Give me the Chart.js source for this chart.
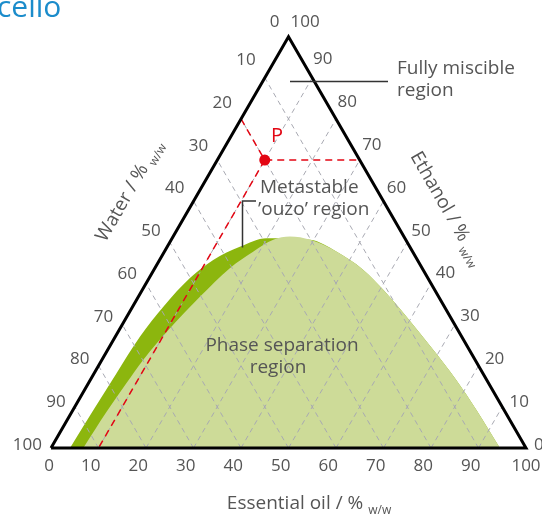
<!DOCTYPE html>
<html>
<head>
<meta charset="utf-8">
<script src="https://cdn.jsdelivr.net/npm/chart.js@4.4.1/dist/chart.umd.min.js"></script>
<style>
  html, body { margin: 0; padding: 0; background: #fff; }
  #wrap { position: relative; width: 542px; height: 516px; }
</style>
</head>
<body>
<div id="wrap"><canvas id="grafico"></canvas></div>
<script>
const ticks = [0, 10, 20, 30, 40, 50, 60, 70, 80, 90, 100];
const gridTicks = [10, 20, 30, 40, 50, 60, 70, 80, 90];

// limite da região de separação de fases (óleo essencial %, etanol %)
const faseOil = [6.8, 7.3, 8.0, 8.7, 10.5, 13.0, 15.8, 18.7, 21.5, 24.6, 29.3, 36.3, 44.1, 50.8, 58.9, 68.6, 77.1, 85.0, 94.5];
const faseEthanol = [0, 8.8, 15.8, 21.4, 29.1, 36.8, 43.7, 47.7, 50.6, 51.4, 50.6, 47.7, 43.3, 38.4, 31.9, 23.8, 16.5, 9.2, 0];

// borda externa da faixa metaestável 'ouzo'
const ouzoOil = [4.0, 4.3, 4.7, 5.2, 6.5, 8.6, 11.3, 15.3, 19.9];
const ouzoEthanol = [0, 9.2, 18.2, 27.1, 34.4, 41.3, 45.7, 48.9, 51.0];

// ponto P
const pOil = 10, pWater = 20, pEthanol = 70;

const SQ = Math.sqrt(3) / 2;
function toXY(oil, eth) {
  return { x: oil + eth / 2, y: eth * SQ };
}

const fasePts = faseOil.map((o, i) => toXY(o, faseEthanol[i]));
const ouzoPts = ouzoOil.map((o, i) => toXY(o, ouzoEthanol[i])).concat(fasePts.slice(10));

const gray = '#a8a9b2';
const red = '#e30613';
const txt = '#555';

const datasets = [];

datasets.push({
  data: fasePts, showLine: true, fill: 'origin', backgroundColor: '#cddb98',
  borderWidth: 0, pointRadius: 0, cubicInterpolationMode: 'monotone', order: 8
});
datasets.push({
  data: ouzoPts, showLine: true, fill: 'origin', backgroundColor: '#8cb60e',
  borderWidth: 0, pointRadius: 0, cubicInterpolationMode: 'monotone', order: 9
});

gridTicks.forEach(v => {
  // óleo constante (paralela ao lado esquerdo)
  datasets.push({
    data: [toXY(v, 0), toXY(v, 100 - v)], showLine: true, borderColor: gray,
    borderWidth: 1, borderDash: [5, 4], pointRadius: 0, order: 5
  });
  // água constante (paralela ao lado direito)
  datasets.push({
    data: [toXY(100 - v, 0), toXY(0, 100 - v)], showLine: true, borderColor: gray,
    borderWidth: 1, borderDash: [5, 4], pointRadius: 0, order: 5
  });
});

const pPt = toXY(pOil, pEthanol);
datasets.push({
  data: [toXY(0, 100 - pWater), pPt, toXY(100 - pEthanol, pEthanol)], showLine: true,
  borderColor: red, borderWidth: 1.5, borderDash: [7, 5], pointRadius: 0, order: 3
});
datasets.push({
  data: [pPt, toXY(pOil, 0)], showLine: true,
  borderColor: red, borderWidth: 1.5, borderDash: [7, 5], pointRadius: 0, order: 3
});
datasets.push({
  data: [pPt], showLine: false, pointRadius: 5.5, pointBackgroundColor: red,
  pointBorderWidth: 0, order: 2
});

// triângulo
datasets.push({
  data: [toXY(0, 0), toXY(100, 0), toXY(0, 100), toXY(0, 0)], showLine: true,
  borderColor: '#000', borderWidth: 3, borderJoinStyle: 'miter', pointRadius: 0, order: 1
});

function tituloEixo(ctx, texto, sub, x, y, ang) {
  ctx.save();
  ctx.translate(x, y);
  ctx.rotate(ang);
  ctx.fillStyle = txt;
  ctx.textAlign = 'left';
  ctx.textBaseline = 'alphabetic';
  ctx.font = '19px "Open Sans"';
  const w1 = ctx.measureText(texto + ' ').width;
  ctx.font = '12px "Open Sans"';
  const w2 = ctx.measureText(sub).width;
  const x0 = -(w1 + w2) / 2;
  ctx.font = '19px "Open Sans"';
  ctx.fillText(texto, x0, 7);
  ctx.font = '12px "Open Sans"';
  ctx.fillText(sub, x0 + w1, 12);
  ctx.restore();
}

const textos = {
  id: 'textos',
  afterDraw(chart) {
    const ctx = chart.ctx;
    const xs = chart.scales.x, ys = chart.scales.y;
    const px = (oil, eth) => {
      const p = toXY(oil, eth);
      return [xs.getPixelForValue(p.x), ys.getPixelForValue(p.y)];
    };
    ctx.save();
    ctx.fillStyle = txt;
    ctx.font = '17px "Open Sans"';
    ctx.textBaseline = 'middle';

    // eixo inferior: óleo essencial
    ticks.forEach(v => {
      const [x, y] = px(v, 0);
      if (v === 0) { ctx.textAlign = 'center'; ctx.fillText(v, x - 2, y + 18); }
      else if (v === 100) { ctx.textAlign = 'center'; ctx.fillText(v, x, y + 18); }
      else { ctx.textAlign = 'right'; ctx.fillText(v, x + 2, y + 18); }
    });
    // eixo esquerdo: água
    ticks.forEach(v => {
      const e = 100 - v;
      const [x, y] = px(0, e);
      const dy = e === 100 ? -14 : -3 - e * 0.16;
      ctx.textAlign = 'right';
      ctx.fillText(v, x - 9, y + dy);
    });
    // eixo direito: etanol
    ticks.forEach(v => {
      const [x, y] = px(100 - v, v);
      const dy = v === 100 ? -14 : -3 - v * 0.17;
      ctx.textAlign = 'left';
      ctx.fillText(v, x + 8 - v * 0.08 + (v === 100 ? 2 : 0), y + dy);
    });

    // títulos dos eixos
    tituloEixo(ctx, 'Essential oil / %', 'w/w', 309, 502, 0);
    tituloEixo(ctx, 'Water / %', 'w/w', 128, 190, -Math.PI / 3);
    tituloEixo(ctx, 'Ethanol / %', 'w/w', 448, 208, Math.PI / 3);

    // linhas de chamada
    ctx.strokeStyle = '#333';
    ctx.lineWidth = 1.5;
    ctx.beginPath();
    ctx.moveTo(290, 81.5); ctx.lineTo(388, 81.5);
    ctx.moveTo(256, 201); ctx.lineTo(242.5, 201); ctx.lineTo(242.5, 247.5);
    ctx.stroke();

    // rótulos das regiões
    ctx.font = '19px "Open Sans"';
    ctx.textAlign = 'left';
    ctx.fillText('Fully miscible', 397, 69);
    ctx.fillText('region', 397, 91);
    ctx.fillText('Metastable', 260, 188);
    ctx.fillText('\u2019ouzo\u2019 region', 258, 210);
    ctx.textAlign = 'center';
    ctx.fillText('Phase separation', 282, 346);
    ctx.fillText('region', 278, 368);

    ctx.fillStyle = red;
    ctx.font = '20px "Open Sans"';
    ctx.fillText('P', 277, 136);

    // título cortado no topo
    ctx.fillStyle = '#1b8ccb';
    ctx.font = '30px "Open Sans"';
    ctx.textAlign = 'left';
    ctx.textBaseline = 'alphabetic';
    ctx.fillText('cello', -3, 17);
    ctx.restore();
  }
};

const PXU = 4.75; // pixels por unidade
new Chart(document.getElementById('grafico'), {
  type: 'scatter',
  data: { datasets: datasets },
  options: {
    responsive: true,
    maintainAspectRatio: false,
    animation: false,
    layout: { padding: 0, autoPadding: false },
    plugins: { legend: { display: false }, tooltip: { enabled: false } },
    scales: {
      x: { type: 'linear', display: false, bounds: 'data', min: -51 / PXU, max: (542 - 51) / PXU },
      y: { type: 'linear', display: false, bounds: 'data', min: -(516 - 448) / PXU, max: 448 / PXU }
    }
  },
  plugins: [textos]
});
</script>
</body>
</html>
